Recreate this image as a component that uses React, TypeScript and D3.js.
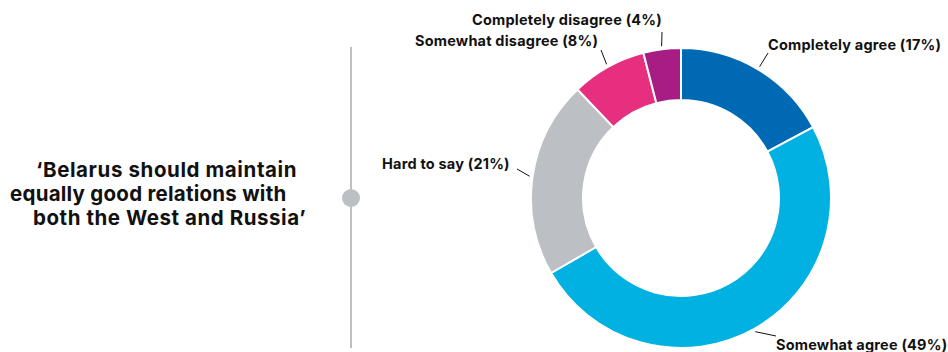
import React from "react";
import * as d3 from "d3";

const categories = ["Completely agree", "Somewhat agree", "Hard to say", "Somewhat disagree", "Completely disagree"];
const values = [17, 49, 21, 8, 4];
const colors = ["#0069b4", "#00b1e1", "#bcc0c5", "#e6307f", "#a81d84"];
const titleLines = ["‘Belarus should maintain", "equally good relations with", "both the West and Russia’"];

const labelPos = [
  { x: 768, y: 50, lx1: 768, ly1: 53 },
  { x: 776, y: 350, lx1: 776, ly1: 336 },
  { x: 382, y: 169, lx1: 517, ly1: 169 },
  { x: 415, y: 46, lx1: 601, ly1: 50 },
  { x: 472, y: 25, lx1: 662, ly1: 32 },
];
const titleX = [36, 10, 33];
const titleSpacing = [0.6, 0.25, 0.55];

export default function App() {
  const W = 948, H = 352;
  const cx = 681, cy = 198;
  const rOuter = 150, rInner = 98;
  const pie = d3.pie<number>().sort(null).value((d) => d);
  const arcs = pie(values);
  const arc = d3.arc<d3.PieArcDatum<number>>().innerRadius(rInner).outerRadius(rOuter);
  const font = "Inter, 'DejaVu Sans', sans-serif";
  return (
    <svg width={W} height={H} style={{ position: "absolute", left: 0, top: 0, background: "#fff" }}>
      <g fontFamily={font} fontWeight={700} fill="#111">
        {titleLines.map((t, i) => (
          <text key={i} x={titleX[i]} y={177 + i * 24} fontSize={20.5} letterSpacing={titleSpacing[i]}>
            {t}
          </text>
        ))}
      </g>
      <line x1={351} x2={351} y1={47} y2={348} stroke="#bcc0c5" strokeWidth={2} />
      <circle cx={351} cy={198} r={9} fill="#bcc0c5" />
      <g transform={`translate(${cx},${cy})`}>
        {arcs.map((a, i) => (
          <path key={i} d={arc(a) || ""} fill={colors[i]} stroke="#fff" strokeWidth={2} />
        ))}
      </g>
      <g fontFamily={font} fontWeight={700} fontSize={14.5} letterSpacing={0.2} fill="#111">
        {arcs.map((a, i) => {
          const mid = (a.startAngle + a.endAngle) / 2;
          const p = labelPos[i];
          const r2 = rOuter + 3;
          const ex = cx + Math.sin(mid) * r2;
          const ey = cy - Math.cos(mid) * r2;
          return (
            <g key={i}>
              <line x1={p.lx1} y1={p.ly1} x2={ex} y2={ey} stroke="#111" strokeWidth={1} />
              <text x={p.x} y={p.y}>
                {`${categories[i]} (${values[i]}%)`}
              </text>
            </g>
          );
        })}
      </g>
    </svg>
  );
}
